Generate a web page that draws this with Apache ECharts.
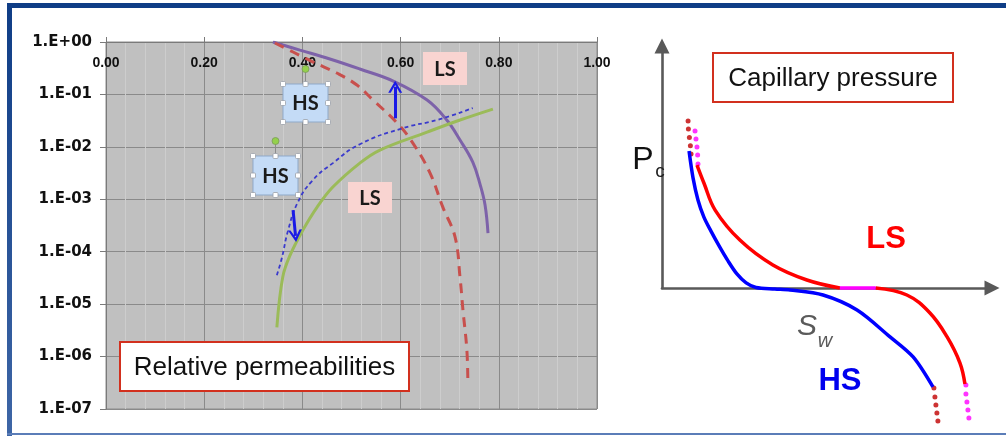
<!DOCTYPE html>
<html><head><meta charset="utf-8">
<script src="https://cdn.jsdelivr.net/npm/echarts@6/dist/echarts.min.js"></script>
<style>html,body{margin:0;padding:0;background:#fff}#c{width:1006px;height:436px}</style>
</head><body><div id="c"></div>
<script>
// ---------- Left chart: relative permeabilities (x = Sw, y = kr, log) ----------
const xTickValues = [0, 0.2, 0.4, 0.6, 0.8, 1.0];
const yTickExponents = [0, -1, -2, -3, -4, -5, -6, -7];

// LS oil relperm (purple solid)
const krPurple = [[0.340,1.0],[0.395,0.70],[0.456,0.474],[0.517,0.305],[0.585,0.180],[0.654,0.078],[0.694,0.0325],[0.721,0.0135],[0.747,0.0051],[0.762,0.0019],[0.772,7.8e-4],[0.778,2.26e-4]];
// HS oil relperm (red dashed)
const krRedDashed = [[0.344,0.957],[0.381,0.644],[0.422,0.415],[0.470,0.256],[0.511,0.151],[0.544,0.078],[0.593,0.0284],[0.625,0.0118],[0.660,0.00316],[0.686,7.1e-4],[0.711,1.9e-4],[0.721,3.27e-5],[0.727,7.7e-6],[0.735,1.32e-6],[0.737,3.1e-7]];
// LS water relperm (green solid)
const krGreen = [[0.348,3.6e-6],[0.360,3.3e-5],[0.375,8.6e-5],[0.401,2.58e-4],[0.430,7.1e-4],[0.462,0.00171],[0.517,0.0049],[0.558,0.0087],[0.654,0.0191],[0.721,0.0325],[0.788,0.0526]];
// HS water relperm (blue dashed)
const krBlueDashed = [[0.348,3.57e-5],[0.358,7.5e-5],[0.371,2.58e-4],[0.390,8.5e-4],[0.420,0.00225],[0.462,0.0049],[0.517,0.0112],[0.605,0.0228],[0.674,0.0325],[0.747,0.055]];
// shift arrows [from, to]
const arrowUp = [[0.589,0.035],[0.589,0.14]];
const arrowDown = [[0.381,6.2e-4],[0.386,2.0e-4]];

// ---------- Right chart: capillary pressure schematic ----------
const pcHS = [[0.082,0.566],[0.094,0.455],[0.109,0.364],[0.127,0.293],[0.148,0.236],[0.173,0.174],[0.200,0.112],[0.227,0.058],[0.255,0.021],[0.285,0.002],[0.342,-0.004],[0.388,-0.008],[0.488,-0.029],[0.591,-0.091],[0.691,-0.202],[0.761,-0.285],[0.821,-0.409]];
const pcLS1 = [[0.106,0.508],[0.127,0.434],[0.161,0.322],[0.236,0.198],[0.336,0.095],[0.439,0.033],[0.539,0.0]];
const pcLSflat = [[0.539,0.0],[0.648,0.0]];
const pcLS2 = [[0.648,0.0],[0.742,-0.029],[0.812,-0.103],[0.864,-0.202],[0.903,-0.310],[0.918,-0.397]];
const dotsHSTop = [[0.079,0.690],[0.080,0.657],[0.083,0.622],[0.086,0.588],[0.088,0.554]];
const dotsHSBottom = [[0.824,-0.413],[0.827,-0.450],[0.830,-0.483],[0.833,-0.517],[0.836,-0.550]];
const dotsLSTop = [[0.100,0.649],[0.103,0.616],[0.106,0.583],[0.108,0.550],[0.109,0.512]];
const dotsLSBottom = [[0.921,-0.401],[0.921,-0.438],[0.924,-0.471],[0.927,-0.504],[0.930,-0.537]];

const FONT = "'Liberation Sans', Arial, sans-serif";

function expLabel(v){
  const e = Math.round(Math.log10(v));
  const a = Math.abs(e);
  return '1.E' + (e >= 0 ? '+' : '-') + (a < 10 ? '0' + a : a);
}

function hsBox(x, y, w, h){
  const els = [];
  els.push({type:'line', z:50, shape:{x1:x+w/2, y1:y-13, x2:x+w/2, y2:y}, style:{stroke:'#8c8c8c', lineWidth:1}});
  els.push({type:'rect', z:50, shape:{x:x, y:y, width:w, height:h}, style:{fill:'#c4dbf6', stroke:'#8fa9c9', lineWidth:1}});
  els.push({type:'text', z:51, x:x+w/2, y:y+h/2+1, style:{text:'HS', font:"bold 20px Lato, 'Open Sans', sans-serif", fill:'#1a1a1a', align:'center', verticalAlign:'middle'}});
  const pts = [[x,y],[x+w/2,y],[x+w,y],[x,y+h/2],[x+w,y+h/2],[x,y+h],[x+w/2,y+h],[x+w,y+h]];
  pts.forEach(p => els.push({type:'rect', z:52, shape:{x:p[0]-2.5, y:p[1]-2.5, width:5, height:5, r:1}, style:{fill:'#ffffff', stroke:'#9aa0a8', lineWidth:0.8}}));
  els.push({type:'circle', z:52, shape:{cx:x+w/2, cy:y-15, r:3.5}, style:{fill:'#94d04c', stroke:'#7a9a5a', lineWidth:0.8}});
  return els;
}
function lsBox(x, y, w, h){
  return [
    {type:'rect', z:50, shape:{x:x, y:y, width:w, height:h}, style:{fill:'#f9d4d1'}},
    {type:'text', z:51, x:x+w/2, y:y+h/2+1, style:{text:'LS', font:"bold 20px Lato, 'Open Sans', sans-serif", fill:'#1a1a1a', align:'center', verticalAlign:'middle'}}
  ];
}
function titleBox(x, y, w, h, txt){
  return [
    {type:'rect', z:50, shape:{x:x, y:y, width:w, height:h}, style:{fill:'#ffffff', stroke:'#d2301e', lineWidth:2}},
    {type:'text', z:51, x:x+w/2, y:y+h/2+1, style:{text:txt, font:'26px ' + FONT, fill:'#111', align:'center', verticalAlign:'middle'}}
  ];
}

const chevron = 'path://M0,10 L5,0 L10,10 L8.2,10 L5,3.6 L1.8,10 Z';

const graphics = [].concat(
  [
    {type:'rect', z:60, shape:{x:7, y:3, width:999, height:5}, style:{fill:'#0f3d86'}},
    {type:'rect', z:60, shape:{x:7, y:3, width:5, height:433}, style:{fill:new echarts.graphic.LinearGradient(0,0,0,1,[{offset:0,color:'#0f3d86'},{offset:1,color:'#3e66a6'}])}},
    {type:'rect', z:60, shape:{x:7, y:433, width:999, height:2}, style:{fill:'#5b7db8'}}
  ],
  hsBox(283, 84, 45, 38),
  hsBox(253, 156, 45, 39),
  lsBox(423, 52, 44, 33),
  lsBox(348, 182, 44, 31),
  titleBox(120, 342, 289, 49, 'Relative permeabilities'),
  titleBox(713, 53, 240, 49, 'Capillary pressure'),
  [
    {type:'text', z:51, x:643, y:160, style:{text:'P', font:'32px ' + FONT, fill:'#111', align:'center', verticalAlign:'middle'}},
    {type:'text', z:51, x:660, y:172, style:{text:'c', font:'19px ' + FONT, fill:'#222', align:'center', verticalAlign:'middle'}},
    {type:'text', z:51, x:886, y:239, style:{text:'LS', font:'bold 31px ' + FONT, fill:'#ff0000', align:'center', verticalAlign:'middle'}},
    {type:'text', z:51, x:840, y:381, style:{text:'HS', font:'bold 31px ' + FONT, fill:'#0000ee', align:'center', verticalAlign:'middle'}},
    {type:'text', z:51, x:807, y:327, style:{text:'S', font:'italic 30px ' + FONT, fill:'#5a5a5a', align:'center', verticalAlign:'middle'}},
    {type:'text', z:51, x:825, y:341, style:{text:'w', font:'italic 20px ' + FONT, fill:'#5a5a5a', align:'center', verticalAlign:'middle'}}
  ]
);

const chart = echarts.init(document.getElementById('c'), null, {renderer:'canvas'});
const option = {
  animation: false,
  backgroundColor: '#ffffff',
  textStyle: {fontFamily: FONT},
  grid: [
    {left:106, top:42, width:491, height:367, show:true, backgroundColor:'#c0c0c0', borderColor:'#8c8c8c', borderWidth:1, containLabel:false},
    {left:662, top:46, width:330, height:242, show:false, containLabel:false}
  ],
  xAxis: [
    {type:'value', gridIndex:0, position:'top', min:0, max:1, interval:0.2,
     axisLine:{show:true, onZero:false, lineStyle:{color:'#7a7a7a', width:1}},
     axisTick:{show:true, inside:false, length:5, lineStyle:{color:'#7a7a7a'}},
     axisLabel:{inside:true, margin:14, color:'#111', fontWeight:'bold', fontSize:14, fontFamily:FONT,
                formatter: v => xTickValues.some(t => Math.abs(t - v) < 1e-9) ? v.toFixed(2) : ''},
     splitLine:{show:true, lineStyle:{color:'#8a8a8a', width:1}},
     minorTick:{show:false, splitNumber:5},
     minorSplitLine:{show:true, lineStyle:{color:'#cdcdcd', width:1}}
    },
    {type:'value', gridIndex:1, min:0, max:1,
     axisLine:{show:true, onZero:false, symbol:['none','triangle'], symbolSize:[15,15], lineStyle:{color:'#595959', width:2.6}},
     axisTick:{show:false}, axisLabel:{show:false}, splitLine:{show:false}
    }
  ],
  yAxis: [
    {type:'log', gridIndex:0, logBase:10, min:1e-7, max:1, interval:1,
     axisLine:{show:true, onZero:false, lineStyle:{color:'#7a7a7a', width:1}},
     axisTick:{show:true, inside:false, length:6, lineStyle:{color:'#7a7a7a'}},
     axisLabel:{margin:14, color:'#111', fontWeight:'bold', fontSize:15, fontFamily:"'DejaVu Sans', sans-serif",
                formatter: v => yTickExponents.indexOf(Math.round(Math.log10(v))) >= 0 ? expLabel(v) : ''},
     splitLine:{show:true, lineStyle:{color:'#8a8a8a', width:1}},
     minorSplitLine:{show:false}
    },
    {type:'value', gridIndex:1, min:0, max:1,
     axisLine:{show:true, onZero:false, symbol:['none','triangle'], symbolSize:[15,15], lineStyle:{color:'#595959', width:2.6}},
     axisTick:{show:false}, axisLabel:{show:false}, splitLine:{show:false}
    }
  ],
  series: [
    {name:'krPurple', type:'line', xAxisIndex:0, yAxisIndex:0, data:krPurple, smooth:0.4, showSymbol:false, lineStyle:{color:'#7d62a9', width:3}},
    {name:'krRed', type:'line', xAxisIndex:0, yAxisIndex:0, data:krRedDashed, smooth:0.4, showSymbol:false, lineStyle:{color:'#c8504d', width:3, type:[10,7]}},
    {name:'krGreen', type:'line', xAxisIndex:0, yAxisIndex:0, data:krGreen, smooth:0.4, showSymbol:false, lineStyle:{color:'#9bbb59', width:3}},
    {name:'krBlue', type:'line', xAxisIndex:0, yAxisIndex:0, data:krBlueDashed, smooth:0.5, showSymbol:false, lineStyle:{color:'#3a3acc', width:1.8, type:[4,3]}},
    {name:'arrows', type:'line', xAxisIndex:0, yAxisIndex:0, data:[], z:5,
     markLine:{silent:true, animation:false, symbol:['none', chevron], symbolSize:[14,12], label:{show:false},
       lineStyle:{color:'#1a1ae6', width:3, type:'solid'}, emphasis:{disabled:true},
       data:[[{coord:arrowUp[0]},{coord:arrowUp[1]}],[{coord:arrowDown[0]},{coord:arrowDown[1]}]]}},
    {name:'pcHS', type:'line', xAxisIndex:1, yAxisIndex:1, data:pcHS, smooth:0.3, clip:false, showSymbol:false, lineStyle:{color:'#0000ff', width:3.5}},
    {name:'pcLS1', type:'line', xAxisIndex:1, yAxisIndex:1, data:pcLS1, smooth:0.4, clip:false, showSymbol:false, lineStyle:{color:'#ff0000', width:3.5}},
    {name:'pcLSflat', type:'line', xAxisIndex:1, yAxisIndex:1, data:pcLSflat, clip:false, showSymbol:false, lineStyle:{color:'#ff00ff', width:3.5}},
    {name:'pcLS2', type:'line', xAxisIndex:1, yAxisIndex:1, data:pcLS2, smooth:0.4, clip:false, showSymbol:false, lineStyle:{color:'#ff0000', width:3.5}},
    {name:'dHS1', type:'scatter', xAxisIndex:1, yAxisIndex:1, data:dotsHSTop, clip:false, symbolSize:5, itemStyle:{color:'#c00000'}},
    {name:'dHS2', type:'scatter', xAxisIndex:1, yAxisIndex:1, data:dotsHSBottom, clip:false, symbolSize:5, itemStyle:{color:'#c00000'}},
    {name:'dLS1', type:'scatter', xAxisIndex:1, yAxisIndex:1, data:dotsLSTop, clip:false, symbolSize:5, itemStyle:{color:'#ff00ff'}},
    {name:'dLS2', type:'scatter', xAxisIndex:1, yAxisIndex:1, data:dotsLSBottom, clip:false, symbolSize:5, itemStyle:{color:'#ff00ff'}}
  ],
  graphic: graphics
};
chart.setOption(option);
</script>
</body></html>
